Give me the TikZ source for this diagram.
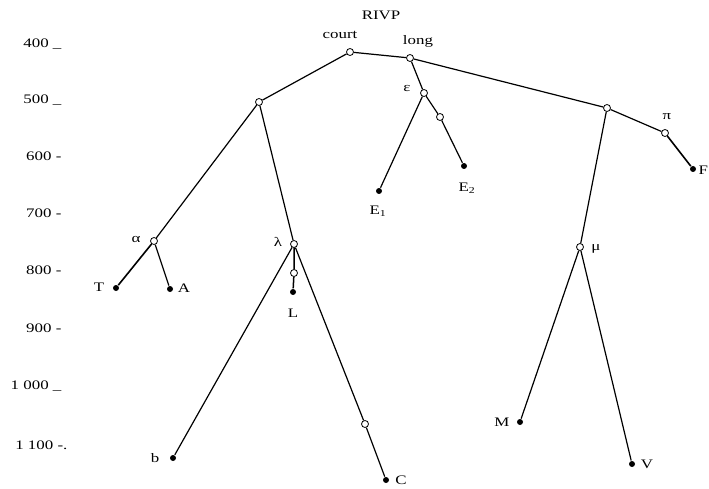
\documentclass[tikz,border=0pt]{standalone}
\usepackage{fontspec}
\setmainfont{Liberation Serif}[FakeStretch=1.3]

\begin{document}
\begin{tikzpicture}[x=1pt,y=-1pt,line width=1.2pt,
  ouv/.style={circle,draw,fill=white,inner sep=0pt,minimum size=7pt,line width=0.8pt},
  pl/.style={circle,fill=black,inner sep=0pt,minimum size=6pt},
  lab/.style={inner sep=0pt,font=\fontsize{13}{15}\selectfont},
  axe/.style={inner sep=0pt,anchor=base east,font=\fontsize{13}{15}\selectfont}]
  \useasboundingbox (0,0) rectangle (709,489);
  % echelle verticale
  \node[axe] (y400) at (62,48) {400 \_};
  \node[axe] (y500) at (62,104) {500 \_};
  \node[axe] (y600) at (62,161) {600 -};
  \node[axe] (y700) at (62,217) {700 -};
  \node[axe] (y800) at (62,274) {800 -};
  \node[axe] (y900) at (62,332) {900 -};
  \node[axe] (y1000) at (62,389) {1 000 \_};
  \node[axe] (y1100) at (68,449) {1 100 -.};
  % sommets
  \node[ouv] (court) at (350,52) {};
  \node[ouv] (long) at (410,58) {};
  \node[ouv] (g) at (259,102) {};
  \node[ouv] (eps) at (424,93) {};
  \node[ouv] (epsm) at (440,117) {};
  \node[pl] (E2) at (464,166) {};
  \node[pl] (E1) at (379,191) {};
  \node[ouv] (d) at (607,108) {};
  \node[ouv] (pi) at (665,133) {};
  \node[pl] (F) at (693,169) {};
  \node[ouv] (alpha) at (154,241) {};
  \node[pl] (T) at (116,288) {};
  \node[pl] (A) at (170,289) {};
  \node[ouv] (lambda) at (294,244) {};
  \node[ouv] (Lm) at (294,273) {};
  \node[pl] (L) at (293,292) {};
  \node[pl] (b) at (173,458) {};
  \node[ouv] (Cm) at (365,424) {};
  \node[pl] (C) at (386,480) {};
  \node[ouv] (mu) at (580,247) {};
  \node[pl] (M) at (520,422) {};
  \node[pl] (V) at (632,464) {};
  % branches
  \draw (court) -- (long);
  \draw (court) -- (g);
  \draw (g) -- (alpha);
  \draw (g) -- (lambda);
  \draw[line width=1.6pt] (alpha) -- (T);
  \draw (alpha) -- (A);
  \draw[line width=1.5pt] (lambda) -- (Lm) -- (L);
  \draw (lambda) -- (b);
  \draw (lambda) -- (Cm) -- (C);
  \draw (long) -- (eps);
  \draw (eps) -- (E1);
  \draw (eps) -- (epsm) -- (E2);
  \draw (long) -- (d);
  \draw (d) -- (pi);
  \draw[line width=1.6pt] (pi) -- (F);
  \draw (d) -- (mu);
  \draw (mu) -- (M);
  \draw (mu) -- (V);
  % etiquettes
  \node[lab] (tRIVP) at (381,15) {RIVP};
  \node[lab] (tcourt) at (340,35) {court};
  \node[lab] (tlong) at (418,41) {long};
  \node[lab] (teps) at (407,89) {ε};
  \node[lab] (tE2) at (467,188) {E\textsubscript{2}};
  \node[lab] (tE1) at (378,211) {E\textsubscript{1}};
  \node[lab] (tpi) at (667,117) {π};
  \node[lab,anchor=west] (tF) at (698,170) {F};
  \node[lab] (talpha) at (136,239) {α};
  \node[lab] (tT) at (99,287) {T};
  \node[lab] (tA) at (184,288) {A};
  \node[lab] (tlambda) at (278,242) {λ};
  \node[lab] (tL) at (293,313) {L};
  \node[lab] (tmu) at (596,249) {μ};
  \node[lab] (tM) at (502,422) {M};
  \node[lab] (tV) at (647,464) {V};
  \node[lab] (tb) at (155,458) {b};
  \node[lab] (tC) at (401,480) {C};
\end{tikzpicture}
\end{document}
